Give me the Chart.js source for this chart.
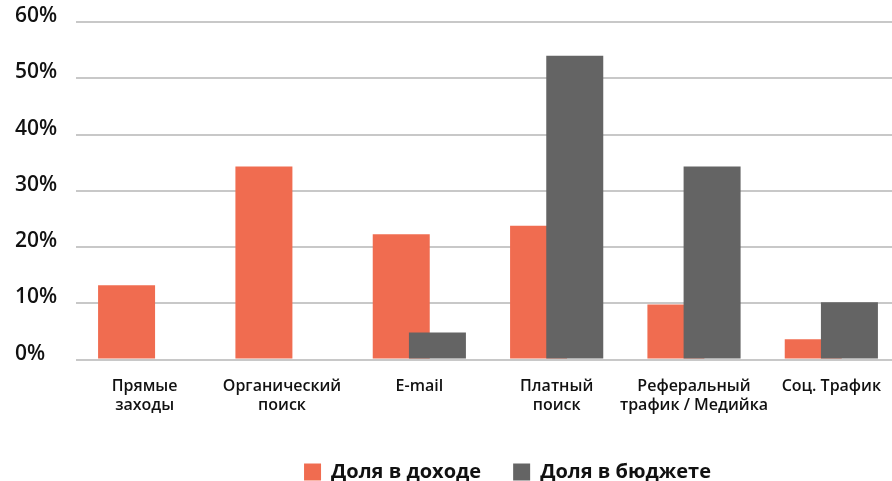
<!DOCTYPE html>
<html><head><meta charset="utf-8">
<script src="https://cdn.jsdelivr.net/npm/chart.js@4/dist/chart.umd.min.js"></script>
<style>
html,body{margin:0;padding:0;background:#fff;overflow:hidden;width:892px;height:481px}
#wrap{width:900px;height:486px;position:relative}
</style>
</head><body><div id="wrap"><canvas id="c" width="900" height="486"></canvas></div>
<script>
const categories = [["Прямые","заходы"],["Органический","поиск"],["E-mail"],["Платный","поиск"],["Реферальный","трафик / Медийка"],["Соц. Трафик"]];
const seriesNames = ["Доля в доходе","Доля в бюджете"];
const incomeShare = [13.2, 34.3, 22.3, 23.8, 9.8, 3.6];
const budgetShare = [null, null, 4.8, 54.0, 34.3, 10.2];
const yTicks = [0, 10, 20, 30, 40, 50, 60];
const colors = ["#F06C50", "#646464"];

const drawInIndexOrder = {
  id: 'drawInIndexOrder',
  beforeDatasetsDraw(chart) {
    const metas = chart.getSortedVisibleDatasetMetas();
    for (const m of metas) m.controller.draw();
    return false;
  }
};
const shiftLegend = {
  id: 'shiftLegend',
  afterLayout(chart) {
    chart.legend.left += 50;
    chart.legend.right += 50;
    chart.legend.top += 6;
    chart.legend.bottom += 6;
  }
};

new Chart(document.getElementById('c'), {
  type: 'bar',
  data: {
    labels: categories,
    datasets: [
      {label: seriesNames[0], data: incomeShare, backgroundColor: colors[0], borderWidth: 0},
      {label: seriesNames[1], data: budgetShare, backgroundColor: colors[1], borderWidth: 0}
    ]
  },
  plugins: [drawInIndexOrder, shiftLegend],
  options: {
    responsive: false, animation: false, devicePixelRatio: 1,
    categoryPercentage: 0.527, barPercentage: 1.575,
    layout: {padding: {left: 15, top: 22, right: 0, bottom: 0}},
    plugins: {
      legend: {position: 'bottom', labels: {boxWidth: 17, boxHeight: 17, padding: 32, color: '#111',
        font: {family: 'Open Sans', size: 20, weight: '700'}}},
      tooltip: {enabled: false}
    },
    scales: {
      x: {grid: {display: false}, border: {display: false},
        ticks: {color: '#111', font: {family: 'Open Sans', size: 16, weight: '600'}, padding: 9, maxRotation: 0, autoSkip: false}},
      y: {min: 0, max: 60,
        afterBuildTicks: s => { s.ticks = yTicks.map(v => ({value: v})); },
        afterFit: s => { s.width = 61; s.paddingTop = 0; s.paddingBottom = 0; },
        grid: {color: '#c8c8c8', lineWidth: 2, drawTicks: false}, border: {display: false},
        ticks: {crossAlign: 'far', padding: 18, labelOffset: -6, callback: v => v + '%', color: '#111',
          font: {family: 'Open Sans', size: 21, weight: '600'}}}
    }
  }
});
</script>
</body></html>
